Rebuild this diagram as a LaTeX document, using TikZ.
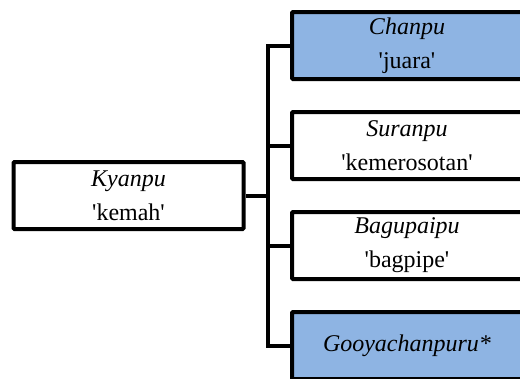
\documentclass[tikz,border=0pt]{standalone}
\usepackage{fontspec}
\setmainfont{Liberation Serif}[Ligatures=TeXOff]
\usetikzlibrary{positioning}

\definecolor{boxblue}{RGB}{142,180,227}

\begin{document}
\begin{tikzpicture}[x=1pt,y=-1pt,line width=4pt,
  node distance=29pt,
  word node/.style={rectangle,draw,rounded corners=1pt,align=center,
    minimum width=230pt,minimum height=67pt,inner sep=0pt,
    font=\fontsize{24}{34}\selectfont},
  hl node/.style={word node,fill=boxblue}]

  \clip (0,0) rectangle (520,378);

  \node[word node] (kyanpu) at (128.5,195.5) {\textit{Kyanpu}\\'kemah'};
  \node[hl node] (chanpu) at (407,45.5) {\textit{Chanpu}\\'juara'};
  \node[word node] (suranpu) [below=of chanpu] {\textit{Suranpu}\\'kemerosotan'};
  \node[word node] (bagupaipu) [below=of suranpu] {\textit{Bagupaipu}\\'bagpipe'};
  \node[hl node] (gooya) [below=of bagupaipu] {\textit{Gooyachanpuru*}};

  \draw (kyanpu.east) -- ++(22,0) coordinate (trunk);
  \draw (trunk) |- (chanpu.west);
  \draw (trunk) |- (suranpu.west);
  \draw (trunk) |- (bagupaipu.west);
  \draw (trunk) |- (gooya.west);

\end{tikzpicture}
\end{document}
